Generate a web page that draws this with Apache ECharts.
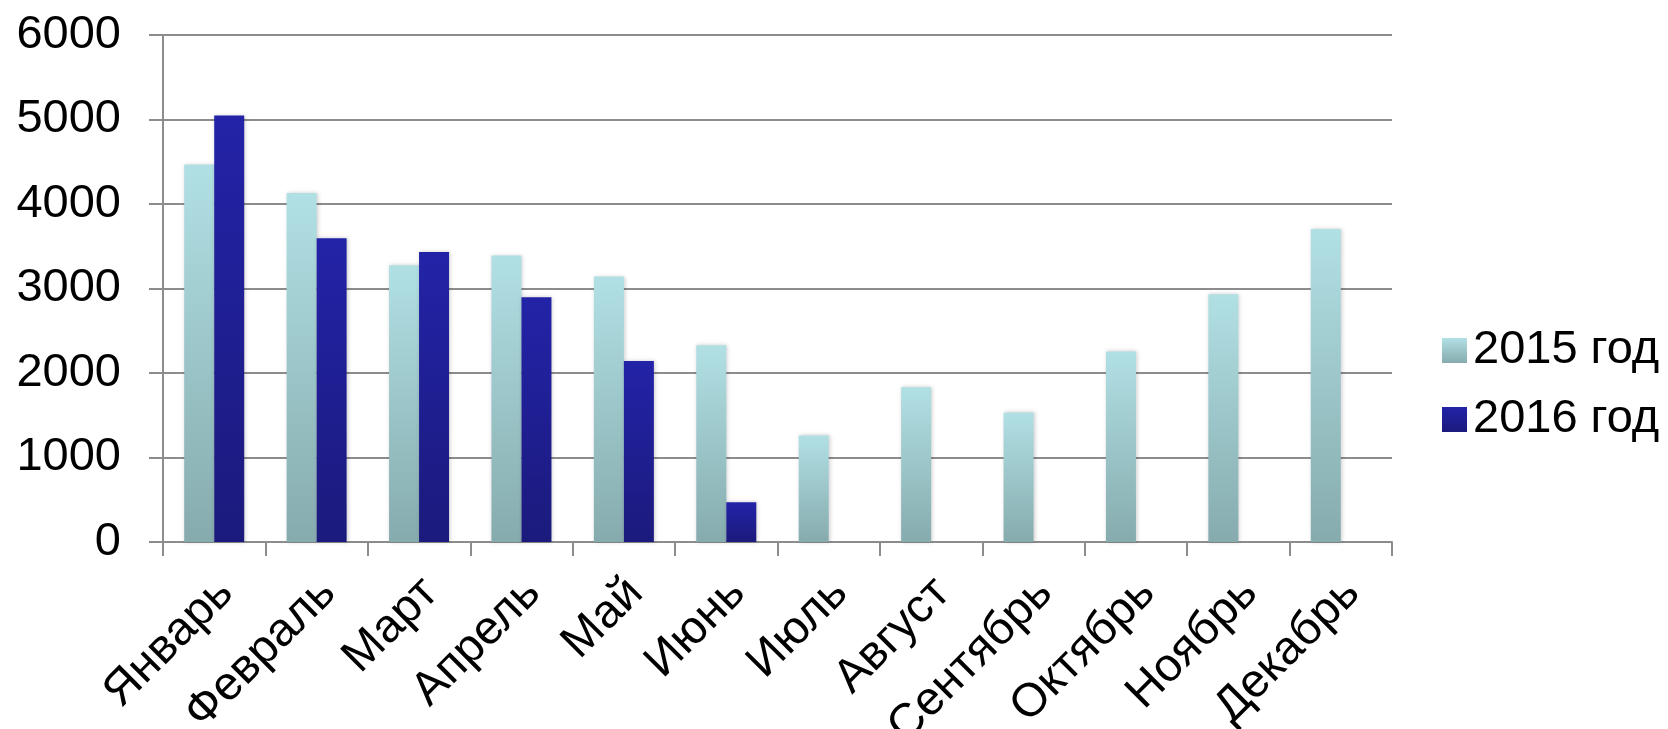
<!DOCTYPE html>
<html>
<head>
<meta charset="utf-8">
<script src="https://cdn.jsdelivr.net/npm/echarts@6/dist/echarts.min.js"></script>
<style>
html,body{margin:0;padding:0;background:#fff;}
#chart{width:1668px;height:729px;}
</style>
</head>
<body>
<div id="chart"></div>
<script>
const categories = ['Январь','Февраль','Март','Апрель','Май','Июнь','Июль','Август','Сентябрь','Октябрь','Ноябрь','Декабрь'];
const seriesNames = ['2015 год','2016 год'];
const values2015 = [4466, 4129, 3275, 3390, 3142, 2328, 1261, 1830, 1534, 2255, 2931, 3703];
const values2016 = [5047, 3596, 3431, 2897, 2142, 470, null, null, null, null, null, null];

const FONT = '"Liberation Sans", Arial, sans-serif';
const gridColor = '#8c8c8c';

function grad(top, bottom) {
  return new echarts.graphic.LinearGradient(0, 0, 0, 1, [
    {offset: 0, color: top}, {offset: 1, color: bottom}
  ]);
}

const chart = echarts.init(document.getElementById('chart'));
chart.setOption({
  animation: false,
  backgroundColor: '#fff',
  grid: {left: 163, right: 276, top: 35, bottom: 187, containLabel: false, outerBoundsMode: 'none'},
  legend: {
    orient: 'vertical',
    left: 1437,
    top: 322,
    itemWidth: 25,
    itemHeight: 25,
    itemGap: 22,
    icon: 'rect',
    textStyle: {fontFamily: FONT, fontSize: 47, color: '#000', padding: [0,0,0,1]},
    data: seriesNames
  },
  xAxis: {
    type: 'category',
    data: categories,
    axisLine: {show: true, lineStyle: {color: gridColor, width: 2}},
    axisTick: {show: true, length: 14, lineStyle: {color: gridColor, width: 2}},
    axisLabel: {
      rotate: 45, interval: 0, margin: 32,
      verticalAlign: 'top',
      lineHeight: 33,
      fontFamily: FONT, fontSize: 47, color: '#000'
    }
  },
  yAxis: {
    type: 'value',
    min: 0, max: 6000, interval: 1000,
    axisLine: {show: true, lineStyle: {color: gridColor, width: 2}},
    axisTick: {show: true, length: 14, lineStyle: {color: gridColor, width: 2}},
    splitLine: {show: true, lineStyle: {color: gridColor, width: 2}},
    axisLabel: {margin: 42, fontFamily: FONT, fontSize: 47, color: '#000', formatter: v => String(v)}
  },
  series: [
    {
      name: seriesNames[0], type: 'bar', data: values2015,
      barWidth: 30, barGap: '0%',
      itemStyle: {color: grad('#b1e0e4', '#86abae'), shadowBlur: 4, shadowColor: 'rgba(0,0,0,0.2)', shadowOffsetX: 1}
    },
    {
      name: seriesNames[1], type: 'bar', data: values2016,
      barWidth: 30, barGap: '0%',
      itemStyle: {color: grad('#2323a8', '#1b1a7c'), shadowBlur: 4, shadowColor: 'rgba(0,0,0,0.2)', shadowOffsetX: 1}
    }
  ]
});
</script>
</body>
</html>
